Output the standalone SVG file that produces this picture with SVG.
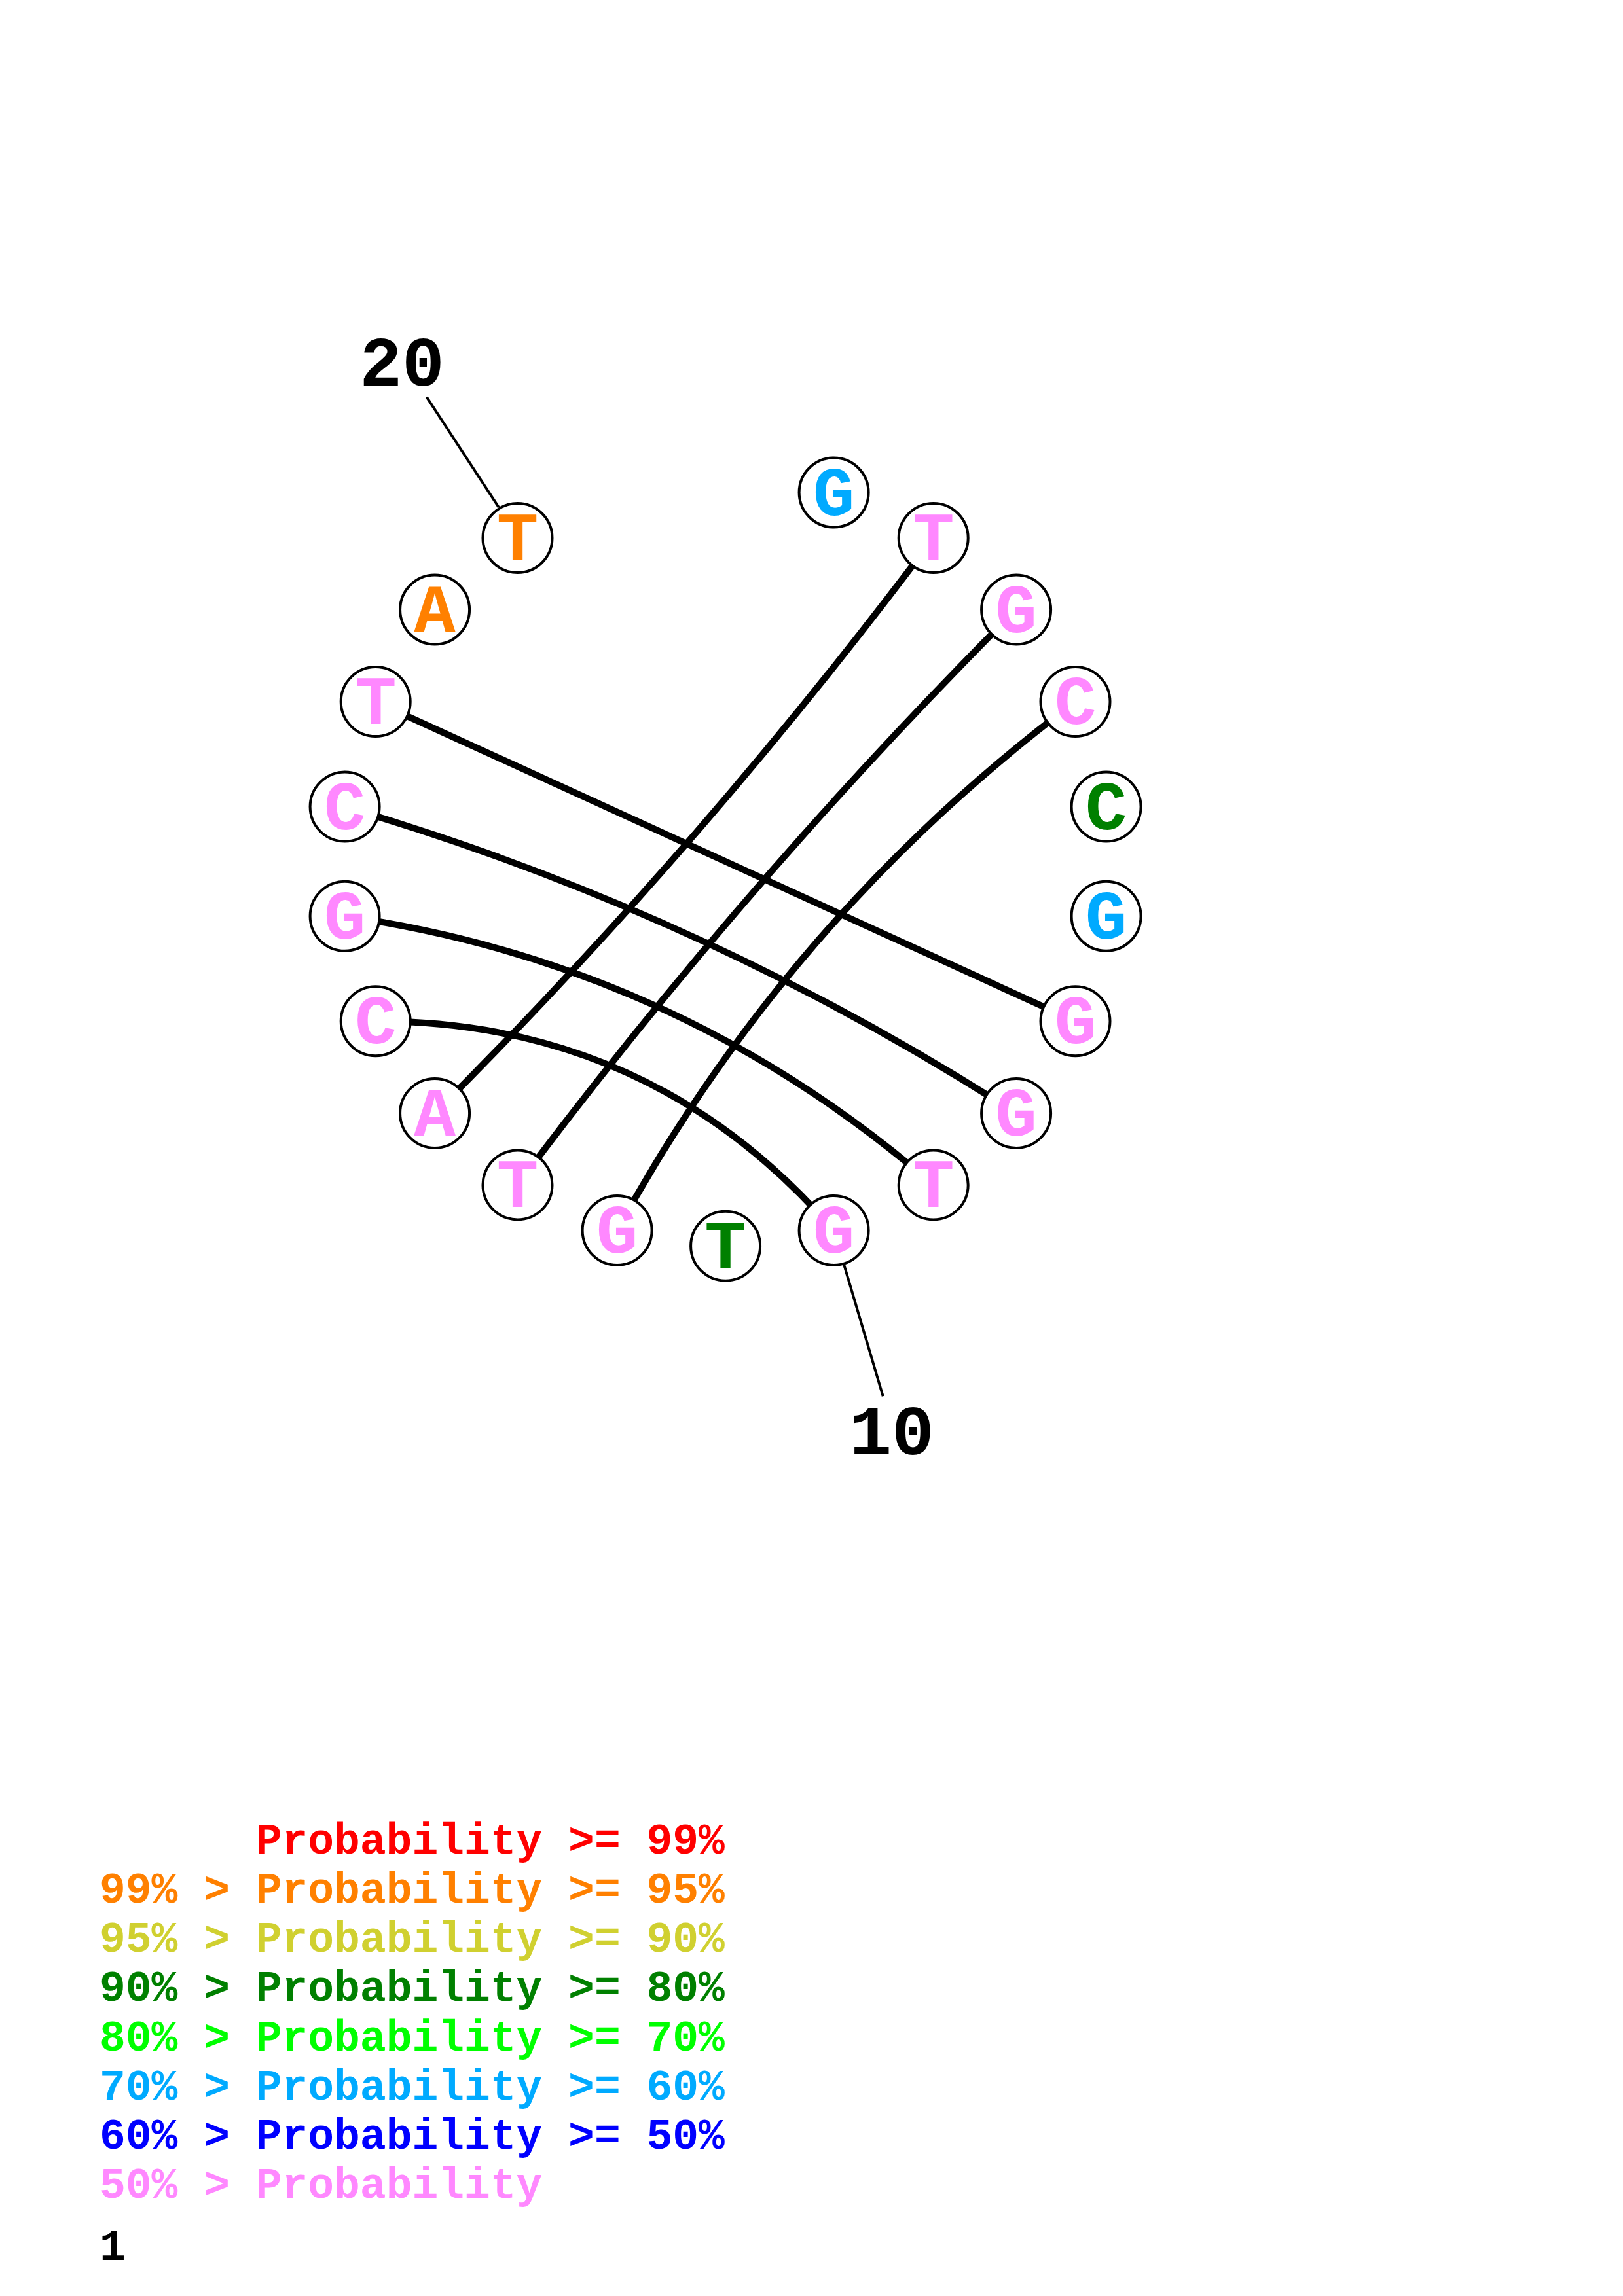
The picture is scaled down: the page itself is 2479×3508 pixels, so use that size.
<svg xmlns="http://www.w3.org/2000/svg" width="2479" height="3508" viewBox="0 0 2479 3508">
<style>
.nc{fill:#ffffff;stroke:#000000;stroke-width:4}
.nt{font-family:"Liberation Mono","Courier New",monospace;font-weight:bold;font-size:106px;text-anchor:middle}
.lb{font-family:"Liberation Mono","Courier New",monospace;font-weight:bold;font-size:108px;text-anchor:middle;fill:#000000}
.lg{font-family:"Liberation Mono","Courier New",monospace;font-weight:bold;font-size:66.3px}
.pair{fill:none;stroke:#000000;stroke-width:10}
.lead{fill:none;stroke:#000000;stroke-width:4}
.pink{fill:#FF88FF}.orange{fill:#FF8000}.green{fill:#008000}.blue{fill:#00AAFF}
</style>
<rect width="2479" height="3508" fill="#ffffff"/>
<g id="connectors">
<path class="pair" d="M573.7,1072.1 L1642.5,1560.3"/>
<path class="pair" d="M526.6,1232.6 Q1073.0,1393.1 1552.1,1700.9"/>
<path class="pair" d="M526.6,1399.8 Q1036.4,1473.1 1425.7,1810.4"/>
<path class="pair" d="M573.7,1560.3 Q996.6,1560.3 1273.6,1879.9"/>
<path class="pair" d="M664.1,1700.9 Q1076.4,1288.7 1425.7,822.0"/>
<path class="pair" d="M790.5,1810.4 Q1139.8,1343.7 1552.1,931.5"/>
<path class="pair" d="M942.6,1879.9 Q1204.7,1399.9 1642.5,1072.1"/>
<line class="lead" x1="761.7" y1="775" x2="651.7" y2="606.7"/>
<line class="lead" x1="1289.3" y1="1932.7" x2="1348.7" y2="2133.3"/>
</g>
<g id="n1"><circle class="nc" cx="1273.6" cy="752.5" r="53"/><text class="nt blue" x="1273.6" y="786.5">G</text></g>
<g id="n2"><circle class="nc" cx="1425.7" cy="822.0" r="53"/><text class="nt pink" x="1425.7" y="856.0">T</text></g>
<g id="n3"><circle class="nc" cx="1552.1" cy="931.5" r="53"/><text class="nt pink" x="1552.1" y="965.5">G</text></g>
<g id="n4"><circle class="nc" cx="1642.5" cy="1072.1" r="53"/><text class="nt pink" x="1642.5" y="1106.1">C</text></g>
<g id="n5"><circle class="nc" cx="1689.6" cy="1232.6" r="53"/><text class="nt green" x="1689.6" y="1266.6">C</text></g>
<g id="n6"><circle class="nc" cx="1689.6" cy="1399.8" r="53"/><text class="nt blue" x="1689.6" y="1433.8">G</text></g>
<g id="n7"><circle class="nc" cx="1642.5" cy="1560.3" r="53"/><text class="nt pink" x="1642.5" y="1594.3">G</text></g>
<g id="n8"><circle class="nc" cx="1552.1" cy="1700.9" r="53"/><text class="nt pink" x="1552.1" y="1734.9">G</text></g>
<g id="n9"><circle class="nc" cx="1425.7" cy="1810.4" r="53"/><text class="nt pink" x="1425.7" y="1844.4">T</text></g>
<g id="n10"><circle class="nc" cx="1273.6" cy="1879.9" r="53"/><text class="nt pink" x="1273.6" y="1913.9">G</text></g>
<g id="n11"><circle class="nc" cx="1108.1" cy="1903.7" r="53"/><text class="nt green" x="1108.1" y="1937.7">T</text></g>
<g id="n12"><circle class="nc" cx="942.6" cy="1879.9" r="53"/><text class="nt pink" x="942.6" y="1913.9">G</text></g>
<g id="n13"><circle class="nc" cx="790.5" cy="1810.4" r="53"/><text class="nt pink" x="790.5" y="1844.4">T</text></g>
<g id="n14"><circle class="nc" cx="664.1" cy="1700.9" r="53"/><text class="nt pink" x="664.1" y="1734.9">A</text></g>
<g id="n15"><circle class="nc" cx="573.7" cy="1560.3" r="53"/><text class="nt pink" x="573.7" y="1594.3">C</text></g>
<g id="n16"><circle class="nc" cx="526.6" cy="1399.8" r="53"/><text class="nt pink" x="526.6" y="1433.8">G</text></g>
<g id="n17"><circle class="nc" cx="526.6" cy="1232.6" r="53"/><text class="nt pink" x="526.6" y="1266.6">C</text></g>
<g id="n18"><circle class="nc" cx="573.7" cy="1072.1" r="53"/><text class="nt pink" x="573.7" y="1106.1">T</text></g>
<g id="n19"><circle class="nc" cx="664.1" cy="931.5" r="53"/><text class="nt orange" x="664.1" y="965.5">A</text></g>
<g id="n20"><circle class="nc" cx="790.5" cy="822.0" r="53"/><text class="nt orange" x="790.5" y="856.0">T</text></g>
<g id="labels">
<text class="lb" x="614" y="589">20</text>
<text class="lb" x="1362" y="2222">10</text>
</g>
<g id="legend">
<text class="lg" x="390.7" y="2831.7" fill="#FF0000">Probability &gt;= 99%</text>
<text class="lg" x="152" y="2906.9" fill="#FF8000">99% &gt; Probability &gt;= 95%</text>
<text class="lg" x="152" y="2982.1" fill="#D0D030">95% &gt; Probability &gt;= 90%</text>
<text class="lg" x="152" y="3057.3" fill="#008000">90% &gt; Probability &gt;= 80%</text>
<text class="lg" x="152" y="3132.5" fill="#00FF00">80% &gt; Probability &gt;= 70%</text>
<text class="lg" x="152" y="3207.7" fill="#00AAFF">70% &gt; Probability &gt;= 60%</text>
<text class="lg" x="152" y="3282.9" fill="#0000FF">60% &gt; Probability &gt;= 50%</text>
<text class="lg" x="152" y="3358.1" fill="#FF88FF">50% &gt; Probability</text>
<text class="lg" x="152" y="3453.3" fill="#000000">1</text>
</g>
</svg>
